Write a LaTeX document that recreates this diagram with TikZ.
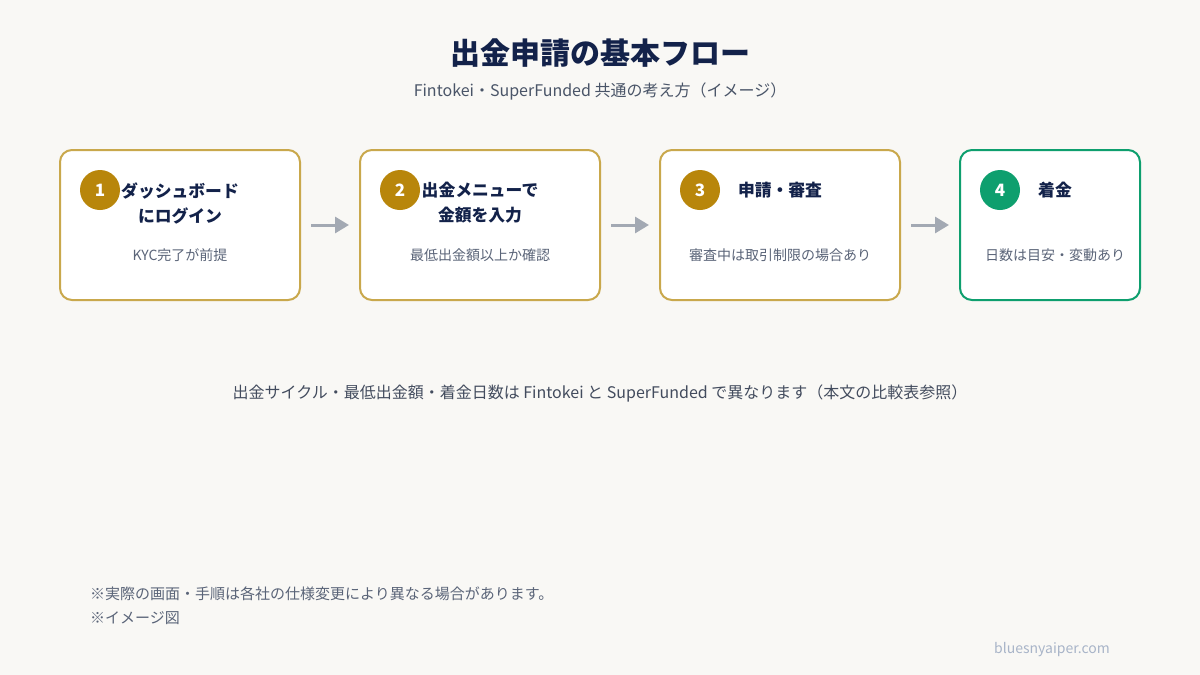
\documentclass[tikz,border=0pt]{standalone}
\usepackage{fontspec}
\setmainfont{Noto Sans CJK JP}
\usetikzlibrary{arrows.meta}
\definecolor{bg}{HTML}{F9F8F5}
\definecolor{navy}{HTML}{13224A}
\definecolor{sub}{HTML}{4A5568}
\definecolor{gold}{HTML}{C9A84C}
\definecolor{goldc}{HTML}{B8860B}
\definecolor{grn}{HTML}{0E9F6E}
\definecolor{gtext}{HTML}{5A6478}
\definecolor{arr}{HTML}{A3A9B3}
\definecolor{web}{HTML}{A8B4C8}
\tikzset{
  stepbox/.style={draw=gold, line width=2pt, fill=white, rounded corners=12pt, minimum height=150pt, inner sep=0pt},
  numc/.style={circle, fill=goldc, minimum size=40pt, inner sep=0pt, text=white, font=\fontsize{17}{20}\selectfont\bfseries},
  ttl/.style={text=navy, font=\fontsize{16.8}{25}\selectfont\bfseries, align=center},
  desc/.style={text=gtext, font=\fontsize{14}{16}\selectfont},
  flow/.style={draw=arr, line width=3pt, shorten <=10pt, shorten >=10pt, -{Triangle[length=14pt,width=16pt]}}
}
\begin{document}
\begin{tikzpicture}[x=1pt,y=-1pt]
\path[fill=bg] (0,0) rectangle (1200,675);
\useasboundingbox (0,0) rectangle (1200,675);
\node[text=navy, font=\fontsize{30}{34}\selectfont\bfseries] (title) at (600,53) {出金申請の基本フロー};
\node[text=sub, font=\fontsize{16}{18}\selectfont] (subt) at (600,91) {Fintokei・SuperFunded 共通の考え方（イメージ）};
% boxes
\node[stepbox, minimum width=240pt] (b1) at (180,225) {};
\node[stepbox, minimum width=240pt] (b2) at (480,225) {};
\node[stepbox, minimum width=240pt] (b3) at (780,225) {};
\node[stepbox, draw=grn, minimum width=180pt] (b4) at (1050,225) {};
% circles
\node[numc] (c1) at (100,190) {1};
\node[numc] (c2) at (400,190) {2};
\node[numc] (c3) at (700,190) {3};
\node[numc, fill=grn] (c4) at (1000,190) {4};
% titles
\node[ttl] (t1) at (180,203) {ダッシュボード\\にログイン};
\node[ttl] (t2) at (480,203) {出金メニューで\\金額を入力};
\node[ttl] (t3) at (780,190) {申請・審査};
\node[ttl] (t4) at (1055,190) {着金};
% descriptions
\node[desc] (d1) at (180,255) {KYC完了が前提};
\node[desc] (d2) at (480,255) {最低出金額以上か確認};
\node[desc] (d3) at (780,255) {審査中は取引制限の場合あり};
\node[desc] (d4) at (1055,255) {日数は目安・変動あり};
% arrows
\draw[flow] (b1.east) -- (b2.west);
\draw[flow] (b2.east) -- (b3.west);
\draw[flow] (b3.east) -- (b4.west);
% note
\node[text=sub!90!black, font=\fontsize{16}{18}\selectfont] (note) at (600,393) {出金サイクル・最低出金額・着金日数は Fintokei と SuperFunded で異なります（本文の比較表参照）};
% footnotes
\node[anchor=west, text=gtext, font=\fontsize{15}{17}\selectfont, inner sep=0pt] (f1) at (90,594) {※実際の画面・手順は各社の仕様変更により異なる場合があります。};
\node[anchor=west, text=gtext, font=\fontsize{15}{17}\selectfont, inner sep=0pt] (f2) at (90,618) {※イメージ図};
\node[anchor=east, text=web, font=\fontsize{14}{16}\selectfont, inner sep=0pt] (site) at (1110,650) {bluesnyaiper.com};
\end{tikzpicture}
\end{document}
